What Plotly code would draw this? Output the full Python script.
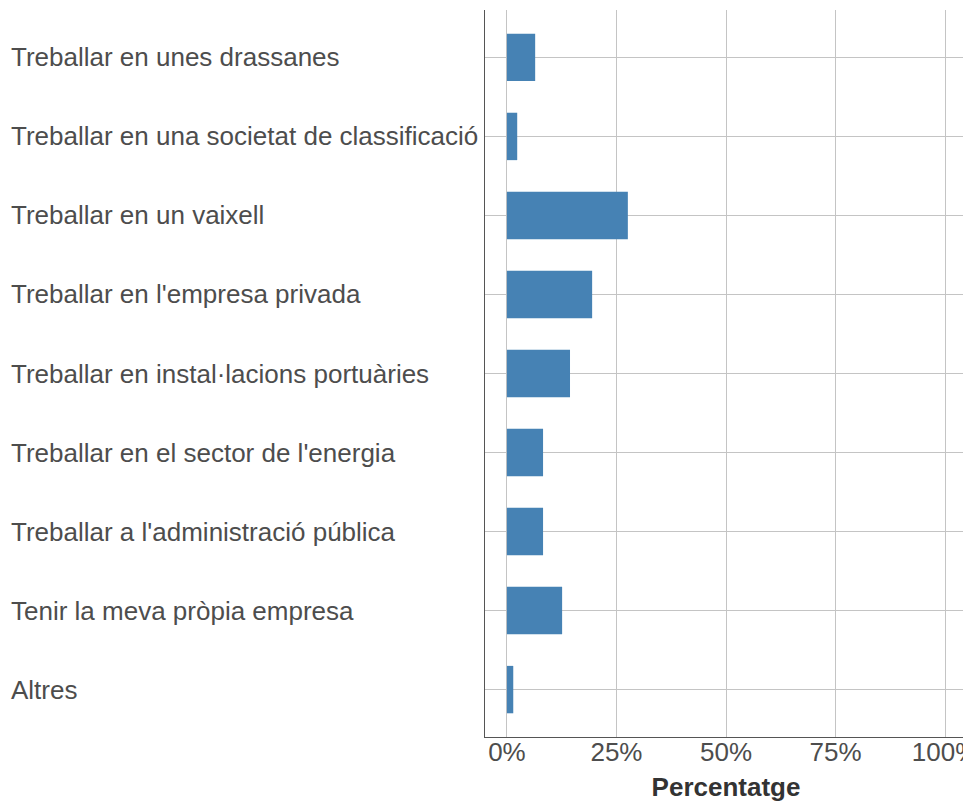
import plotly.graph_objects as go

categories = [
    "Treballar en unes drassanes",
    "Treballar en una societat de classificació",
    "Treballar en un vaixell",
    "Treballar en l'empresa privada",
    "Treballar en instal·lacions portuàries",
    "Treballar en el sector de l'energia",
    "Treballar a l'administració pública",
    "Tenir la meva pròpia empresa",
    "Altres",
]
percentages = [6.45, 2.35, 27.6, 19.45, 14.4, 8.25, 8.25, 12.6, 1.45]
x_ticks = [0, 25, 50, 75, 100]
x_tick_labels = ["0%", "25%", "50%", "75%", "100%"]

FONT = "Liberation Sans, Arial, sans-serif"

fig = go.Figure(
    go.Bar(
        x=percentages,
        y=categories,
        orientation="h",
        width=0.6,
        marker=dict(color="#4682B4", line=dict(width=0)),
        hoverinfo="x+y",
    )
)

# plot area is 482 px wide
annotations = [
    dict(
        x=-476 / 482, y=c, xref="paper", yref="y",
        text=c, showarrow=False, xanchor="left", yanchor="middle",
        font=dict(family=FONT, size=26, color="#4d4d4d"),
    )
    for c in categories
]

fig.update_layout(
    width=963, height=794,
    margin=dict(l=477, r=4, t=2, b=65, autoexpand=False),
    paper_bgcolor="white", plot_bgcolor="white",
    showlegend=False,
    annotations=annotations,
    xaxis=dict(
        range=[-5, 105], automargin=False,
        tickvals=x_ticks, ticktext=x_tick_labels,
        showgrid=True, gridcolor="#c4c4c4", gridwidth=1,
        zeroline=False, showline=True, linecolor="#555555", linewidth=1,
        ticks="", ticklen=0, ticklabeloverflow="allow", ticklabelstandoff=-8,
        tickfont=dict(family=FONT, size=26, color="#4d4d4d"),
        title=dict(text="<b>Percentatge</b>", font=dict(family=FONT, size=26, color="#333333"), standoff=18),
    ),
    yaxis=dict(
        categoryorder="array", categoryarray=categories,
        range=[8.6, -0.6], autorange=False, automargin=False,
        showgrid=True, gridcolor="#c4c4c4", gridwidth=1,
        zeroline=False, showline=True, linecolor="#555555", linewidth=1,
        showticklabels=False, ticks="",
    ),
)

fig.write_html("out.html")
